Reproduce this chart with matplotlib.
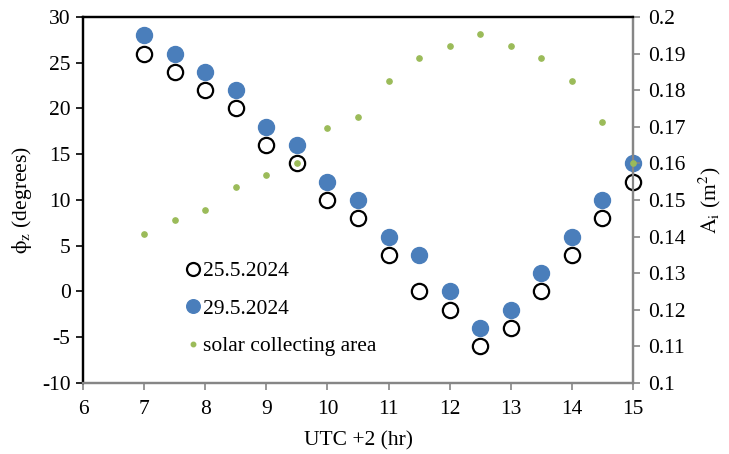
import matplotlib
matplotlib.use("Agg")
import matplotlib.pyplot as plt

plt.rcParams['font.family'] = ['Liberation Serif', 'DejaVu Serif']
plt.rcParams['mathtext.fontset'] = 'stix'
plt.rcParams['axes.unicode_minus'] = False

hours = [7, 7.5, 8, 8.5, 9, 9.5, 10, 10.5, 11, 11.5, 12, 12.5, 13, 13.5, 14, 14.5, 15]
phi_25 = [26, 24, 22, 20, 16, 14, 10, 8, 4, 0, -2, -6, -4, 0, 4, 8, 12]
phi_29 = [28, 26, 24, 22, 18, 16, 12, 10, 6, 4, 0, -4, -2, 2, 6, 10, 14]
area = [0.1407, 0.1445, 0.1473, 0.1536, 0.1568, 0.1600, 0.1697, 0.1728, 0.1825,
        0.1889, 0.1922, 0.1953, 0.1922, 0.1889, 0.1825, 0.1712, 0.1600]

fig = plt.figure(figsize=(7.29, 4.54), dpi=100)
ax = fig.add_axes([0.1139, 0.1564, 0.7544, 0.8062])
ax2 = ax.twinx()

blue = '#4a7ebb'
green = '#9bbb59'
gray = '#868686'
fs = 15.5

h1, = ax.plot(hours, phi_25, 'o', ms=11, mfc='white', mec='black', mew=1.6, ls='none',
              label='25.5.2024', clip_on=False, zorder=5)
h2, = ax.plot(hours, phi_29, 'o', ms=11.5, mfc=blue, mec=blue, ls='none',
              label='29.5.2024', clip_on=False, zorder=5)
h3, = ax2.plot(hours, area, 'o', ms=3.8, mfc=green, mec=green, ls='none',
               label='solar collecting area', clip_on=False, zorder=6)

ax.set_xlim(6, 15)
ax.set_ylim(-10, 30)
ax2.set_ylim(0.1, 0.2)
ax.set_xticks(range(6, 16))
ax.set_yticks(range(-10, 31, 5))
ax2.set_yticks([0.1, 0.11, 0.12, 0.13, 0.14, 0.15, 0.16, 0.17, 0.18, 0.19, 0.2])
ax2.set_yticklabels(['0.1', '0.11', '0.12', '0.13', '0.14', '0.15', '0.16', '0.17', '0.18', '0.19', '0.2'])

for a in (ax, ax2):
    a.spines['top'].set_color('black')
    a.spines['top'].set_linewidth(1.6)
    a.spines['left'].set_color('black')
    a.spines['left'].set_linewidth(1.6)
    a.spines['bottom'].set_color(gray)
    a.spines['bottom'].set_linewidth(1.6)
    a.spines['right'].set_color(gray)
    a.spines['right'].set_linewidth(1.6)

ax.tick_params(axis='y', direction='out', length=5, width=1.2, color='black', labelsize=fs, pad=4)
ax.tick_params(axis='x', direction='out', length=5, width=1.2, color=gray, labelsize=fs, pad=7)
ax2.tick_params(axis='y', direction='out', length=5, width=1.2, color=gray, labelsize=fs, pad=6)

ax.set_xlabel('UTC +2 (hr)', fontsize=fs, labelpad=9)
ax.set_ylabel(r'$\mathrm{\phi_z}$ (degrees)', fontsize=fs, labelpad=6)
ax2.set_ylabel(r'$\mathrm{A_i}$ (m$^2$)', fontsize=fs, labelpad=8)

leg = ax.legend(handles=[h1, h2, h3], loc='lower left', bbox_to_anchor=(0.175, 0.05),
                frameon=False, fontsize=fs, handlelength=0.5, handletextpad=0.2,
                labelspacing=0.8, borderaxespad=0, markerscale=0.85)
leg.set_zorder(10)

fig.savefig('out.png', dpi=100)
